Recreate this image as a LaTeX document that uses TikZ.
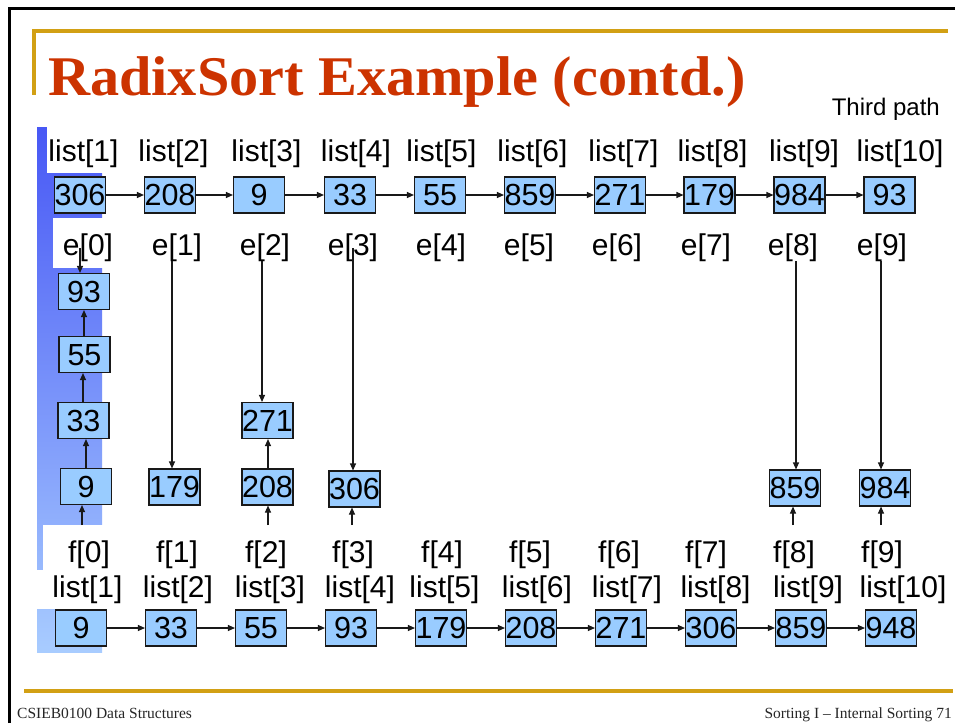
\documentclass[tikz,border=0pt]{standalone}
\usepackage{fontspec}
\setmainfont{Liberation Serif}
\newfontfamily\arialf{Liberation Sans}
\usetikzlibrary{arrows.meta}
\definecolor{gold}{RGB}{210,160,20}
\definecolor{titlered}{RGB}{204,51,0}
\definecolor{boxblue}{RGB}{153,204,255}
\definecolor{gradtop}{RGB}{72,88,245}
\definecolor{gradbot}{RGB}{168,204,255}
\definecolor{linec}{RGB}{25,25,25}
\tikzset{
 cell/.style={draw=linec, line width=1.1pt, fill=boxblue, minimum width=51pt, minimum height=36pt, inner sep=0pt, font=\arialf\fontsize{30.5}{30.5}\selectfont, text height=21.8pt, text depth=0pt},
 lbl/.style={inner sep=0pt, anchor=base, font=\arialf\fontsize{30}{30}\selectfont},
 arr/.style={draw=linec, line width=1.1pt, -{Triangle[length=7pt,width=6pt]}},
 goldline/.style={draw=gold, line width=4pt},
 whitebg/.style={fill=white, draw=none},
}
\begin{document}
\begin{tikzpicture}[x=1pt,y=-1pt]
\useasboundingbox (0,0) rectangle (955,723);
\fill[white] (0,0) rectangle (955,723);
% frame
\draw[line width=3pt, black] (9,723) -- (9,8.5) -- (956,8.5);
% header rules
\draw[goldline] (32,31) -- (948,31);
\draw[goldline] (33.5,31) -- (33.5,95);
\draw[goldline] (24,691) -- (953,691);
% title
\node[anchor=base west, inner sep=0pt, text=titlered, font=\bfseries\fontsize{56}{56}\selectfont] (title) at (48,95) {\scalebox{1.04}[1]{RadixSort Example (contd.)}};
\node[anchor=base east, inner sep=0pt, font=\arialf\fontsize{24}{24}\selectfont] (third) at (940,115) {Third path};
% footer
\node[anchor=base west, inner sep=0pt, text=black!85, font=\fontsize{15.5}{15.5}\selectfont] (foot1) at (17,718) {CSIEB0100 Data Structures};
\node[anchor=base east, inner sep=0pt, text=black!85, font=\fontsize{15.5}{15.5}\selectfont] (foot2) at (952,718) {Sorting I -- Internal Sorting 71};
% gradient strip with white label backgrounds
\fill[top color=gradtop, bottom color=gradbot] (37,127) rectangle (102,652);
\fill[whitebg] (47,127) rectangle (125,173);
\fill[whitebg] (53,218) rectangle (125,268);
\fill[whitebg] (43,525) rectangle (125,570);
\fill[whitebg] (37,570) rectangle (125,609);
% top list labels
\foreach \n/\x in {1/83.5,2/173.5,3/266.5,4/356,5/441.5,6/532.5,7/623.5,8/712.5,9/804,10/900}
  \node[lbl] (tl\n) at (\x,161) {list[\n]};
% top row boxes
\foreach \n/\x/\v in {1/80/306,2/170/208,3/259/9,4/350/33,5/440/55,6/530/859,7/620/271,8/709.5/179,9/799.5/984,10/889.5/93}
  \node[cell] (t\n) at (\x,195) {\v};
\foreach \i/\j in {1/2,2/3,3/4,4/5,5/6,6/7,7/8,8/9,9/10}
  \draw[arr] (t\i.east) -- (t\j.west);
% e labels
\foreach \n/\x in {0/88,1/177,2/265,3/353,4/441,5/529,6/617,7/706,8/793,9/882}
  \node[lbl] (e\n) at (\x,255) {e[\n]};
% f labels
\foreach \n/\x in {0/89,1/177,2/266,3/353,4/442,5/530,6/619,7/706,8/794,9/882}
  \node[lbl] (f\n) at (\x,562) {f[\n]};
% bottom list labels
\foreach \n/\x in {1/87.5,2/178,3/270,4/360,5/444.5,6/537,7/627,8/715.5,9/808,10/903}
  \node[lbl] (bl\n) at (\x,597) {list[\n]};
% bucket boxes
\node[cell] (q93) at (84,291.5) {93};
\node[cell] (q55) at (84.5,354.5) {55};
\node[cell] (q33) at (83.5,420.5) {33};
\node[cell] (q9) at (86,486.5) {9};
\node[cell] (q179) at (174.5,487) {179};
\node[cell] (q271) at (267.5,420.5) {271};
\node[cell] (q208) at (267.5,487) {208};
\node[cell] (q306) at (354.5,489) {306};
\node[cell] (q859) at (795,488) {859};
\node[cell] (q984) at (885,488) {984};
% arrow columns
\coordinate (xa1) at (172,0);
\coordinate (xa2) at (262,0);
\coordinate (xa8) at (796,0);
\coordinate (xa9) at (881,0);
\coordinate (xc86) at (86,0);
\coordinate (xc83) at (83,0);
\coordinate (xc84) at (84,0);
\coordinate (xc268) at (268,0);
% bucket arrows from e labels
\coordinate (ea0) at (80,248);
\coordinate (ea3) at (353,248);
\draw[arr] (ea0) -- (ea0 |- q93.north);
\draw[arr] (xa1 |- e1.south) -- (xa1 |- q179.north);
\draw[arr] (xa2 |- e2.south) -- (xa2 |- q271.north);
\draw[arr] (ea3) -- (ea3 |- q306.north);
\draw[arr] (xa8 |- e8.south) -- (xa8 |- q859.north);
\draw[arr] (xa9 |- e9.south) -- (xa9 |- q984.north);
% chains inside buckets
\draw[arr] (xc86 |- q9.north) -- (xc86 |- q33.south);
\draw[arr] (xc83 |- q33.north) -- (xc83 |- q55.south);
\draw[arr] (xc84 |- q55.north) -- (xc84 |- q93.south);
\draw[arr] (xc268 |- q208.north) -- (xc268 |- q271.south);
% arrows from f labels
\coordinate (fa0) at (82,525);
\coordinate (fa2) at (268,525);
\coordinate (fa3) at (352,525);
\coordinate (fa8) at (793,525);
\coordinate (fa9) at (881,525);
\draw[arr] (fa0) -- (fa0 |- q9.south);
\draw[arr] (fa2) -- (fa2 |- q208.south);
\draw[arr] (fa3) -- (fa3 |- q306.south);
\draw[arr] (fa8) -- (fa8 |- q859.south);
\draw[arr] (fa9) -- (fa9 |- q984.south);
% bottom row boxes
\foreach \n/\x/\v in {1/81/9,2/171/33,3/261/55,4/351/93,5/441/179,6/531/208,7/621/271,8/711/306,9/801/859,10/891/948}
  \node[cell] (b\n) at (\x,628) {\v};
\foreach \i/\j in {1/2,2/3,3/4,4/5,5/6,6/7,7/8,8/9,9/10}
  \draw[arr] (b\i.east) -- (b\j.west);
\end{tikzpicture}
\end{document}
